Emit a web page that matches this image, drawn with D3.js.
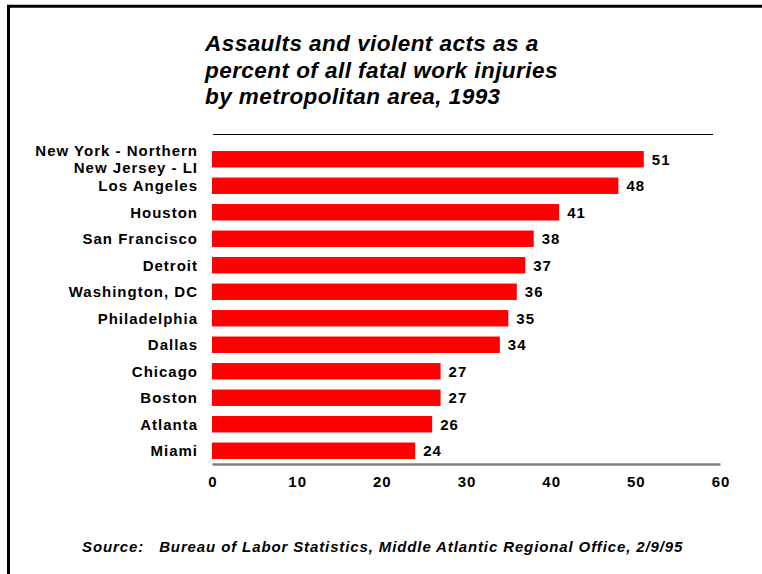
<!DOCTYPE html>
<html>
<head>
<meta charset="utf-8">
<style>
  body { margin: 0; background: #fff; }
  text { font-family: Arial, "Liberation Sans", sans-serif; font-weight: bold; fill: #000; }
</style>
<script src="https://d3js.org/d3.v7.min.js"></script>
</head>
<body>
<script>
// metropolitan areas, top to bottom
var areas = [
  ["New York - Northern", "New Jersey - LI"],
  ["Los Angeles"], ["Houston"], ["San Francisco"], ["Detroit"],
  ["Washington, DC"], ["Philadelphia"], ["Dallas"], ["Chicago"],
  ["Boston"], ["Atlanta"], ["Miami"]
];
var percents = [51, 48, 41, 38, 37, 36, 35, 34, 27, 27, 26, 24];
var xTicks = [0, 10, 20, 30, 40, 50, 60];
var titleLines = [
  "Assaults and violent acts as a",
  "percent of all fatal work injuries",
  "by metropolitan area, 1993"
];
var source = "Source:\u00a0\u00a0\u00a0Bureau of Labor Statistics, Middle Atlantic Regional Office, 2/9/95";

var w = 762, h = 574;

var svg = d3.select("body").append("svg")
    .attr("width", w)
    .attr("height", h);

// frame (top and left edges only)
svg.append("path")
    .attr("d", "M8.5,574V6.2H762")
    .attr("fill", "none")
    .attr("stroke", "#000")
    .attr("stroke-width", 3);

// title
svg.append("g").selectAll("text")
    .data(titleLines)
  .enter().append("text")
    .attr("x", 205)
    .attr("y", function(d, i) { return 51 + i * 26.5; })
    .attr("font-size", 22.5)
    .attr("letter-spacing", 0.45)
    .attr("font-style", "italic")
    .text(function(d) { return d; });

var x = d3.scaleLinear().domain([0, 60]).range([212, 720]);
var y = d3.scaleBand()
    .domain(d3.range(percents.length))
    .range([146, 464])
    .paddingInner(0.38)
    .paddingOuter(0.19);

// rule under title
svg.append("line")
    .attr("x1", 213).attr("x2", 713)
    .attr("y1", 134.5).attr("y2", 134.5)
    .attr("stroke", "#000")
    .attr("stroke-width", 1.2);

// bars
svg.append("g").selectAll("rect")
    .data(percents)
  .enter().append("rect")
    .attr("x", x(0))
    .attr("y", function(d, i) { return y(i); })
    .attr("width", function(d) { return x(d) - x(0); })
    .attr("height", y.bandwidth())
    .attr("fill", "#ff0000");

// value labels
svg.append("g").selectAll("text")
    .data(percents)
  .enter().append("text")
    .attr("x", function(d) { return x(d) + 8; })
    .attr("y", function(d, i) { return y(i) + y.bandwidth() / 2 + 5.5; })
    .attr("font-size", 15)
    .attr("letter-spacing", 1)
    .text(function(d) { return d; });

// category labels
var cat = svg.append("g").selectAll("text")
    .data(areas)
  .enter().append("text")
    .attr("text-anchor", "end")
    .attr("font-size", 15)
    .attr("letter-spacing", 1)
    .attr("y", function(d, i) {
      return y(i) + y.bandwidth() / 2 + 5.5 - (d.length - 1) * 8.5;
    });
cat.selectAll("tspan")
    .data(function(d) { return d; })
  .enter().append("tspan")
    .attr("x", 198)
    .attr("dy", function(d, i) { return i ? 17 : 0; })
    .text(function(d) { return d; });

// x axis
var axis = svg.append("g")
    .attr("transform", "translate(0,464)")
    .call(d3.axisBottom(x).tickValues(xTicks).tickSize(0).tickPadding(12));
axis.select(".domain").attr("stroke", "#808080").attr("stroke-width", 2.5);
axis.selectAll("text")
    .attr("font-size", 15)
    .attr("letter-spacing", 1)
    .attr("dx", 0.5)
    .attr("font-family", "Arial, 'Liberation Sans', sans-serif")
    .attr("font-weight", "bold")
    .attr("fill", "#000");

// source note
svg.append("text")
    .attr("x", 82)
    .attr("y", 552)
    .attr("font-size", 15)
    .attr("letter-spacing", 0.88)
    .attr("font-style", "italic")
    .text(source);
</script>
</body>
</html>
